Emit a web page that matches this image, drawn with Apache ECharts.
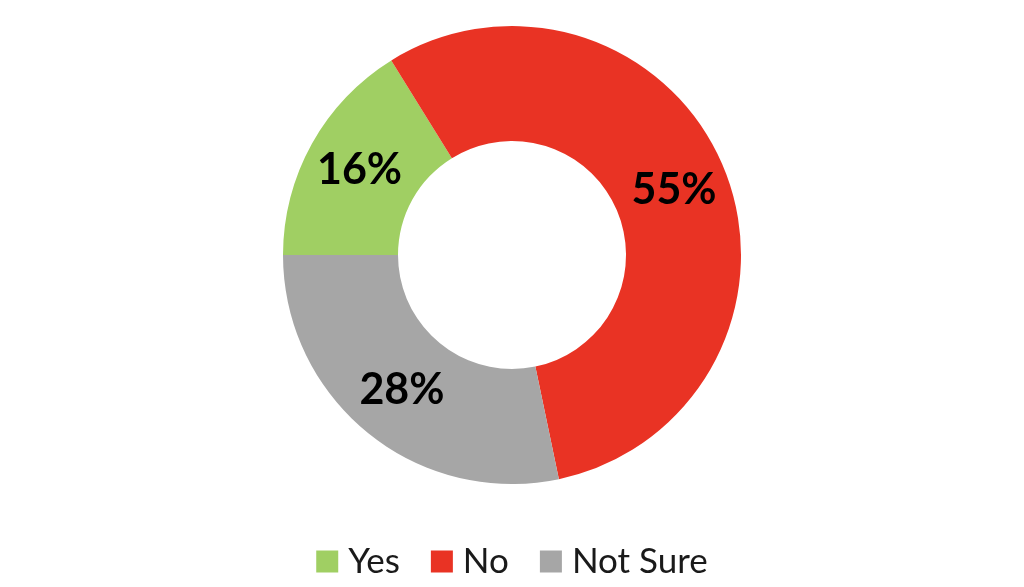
<!DOCTYPE html>
<html>
<head>
<meta charset="utf-8">
<script src="https://cdn.jsdelivr.net/npm/echarts@6/dist/echarts.min.js"></script>
<style>html,body{margin:0;padding:0;background:#fff}#c{width:1024px;height:587px}</style>
</head>
<body>
<div id="c"></div>
<script>
var categories = ['Yes', 'No', 'Not Sure'];
var values = [16, 55, 28];
var colors = ['#A0CF63', '#E93324', '#A6A6A6'];

var chart = echarts.init(document.getElementById('c'), null, {renderer: 'canvas'});
chart.setOption({
  animation: false,
  color: colors,
  legend: {
    data: categories,
    left: 'center',
    top: 539,
    icon: 'rect',
    itemWidth: 22,
    itemHeight: 22,
    itemGap: 31,
    textStyle: {
      fontFamily: 'Lato',
      fontSize: 35,
      color: '#1a1a1a',
      padding: [0, 0, 0, 5]
    }
  },
  series: [{
    type: 'pie',
    center: [512, 255],
    radius: [114, 229],
    startAngle: 180,
    clockwise: true,
    avoidLabelOverlap: false,
    emphasis: {disabled: true},
    itemStyle: {borderWidth: 0},
    label: {
      show: true,
      position: 'inside',
      formatter: '{c}%',
      fontFamily: 'Lato',
      fontWeight: 'bold',
      fontSize: 43,
      color: '#000'
    },
    labelLine: {show: false},
    data: categories.map(function (n, i) { return {name: n, value: values[i]}; })
  }]
});
</script>
</body>
</html>
